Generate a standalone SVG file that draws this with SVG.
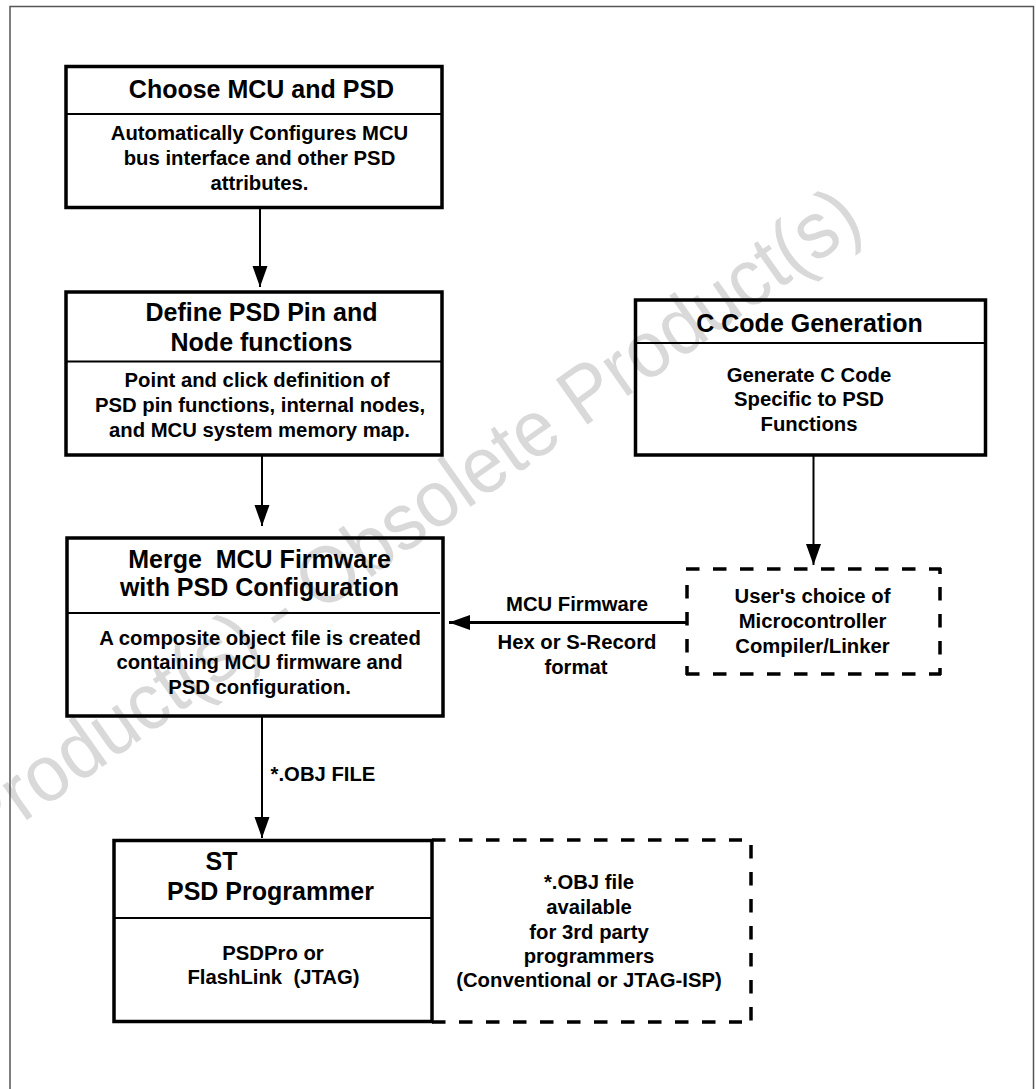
<svg xmlns="http://www.w3.org/2000/svg" width="1036" height="1089" viewBox="0 0 1036 1089">
<style>
text{font-family:"Liberation Sans",Arial,sans-serif;font-weight:bold;fill:#000;text-anchor:middle}
.t{font-size:25px}
.b{font-size:20.3px}
.l{font-size:20.3px}
.box{fill:none;stroke:#000;stroke-width:3.5}
.div{fill:none;stroke:#000;stroke-width:2}
.dash{fill:none;stroke:#000;stroke-width:3.5;stroke-dasharray:13.5 13.5}
.c{fill:none;stroke:#000;stroke-width:2}
text.wm{font-weight:normal;font-size:80px;fill:#d9d9d9;text-anchor:end}
</style>
<defs>
<marker id="arrow" markerUnits="userSpaceOnUse" markerWidth="22" markerHeight="16" refX="21" refY="7.5" orient="auto">
<path d="M0 0L21 7.5L0 15Z" fill="#000"/>
</marker>
</defs>
<rect width="1036" height="1089" fill="#fff"/>
<text class="wm" transform="translate(866 228) rotate(-35.2) scale(0.94 1)">Product(s) - Obsolete Product(s)</text>
<path d="M10 1089V6.5H1033.5V1089" fill="none" stroke="#555" stroke-width="1.5"/>
<g id="connectors">
<line class="c" x1="260" y1="209" x2="260" y2="287" marker-end="url(#arrow)"/>
<line class="c" x1="262" y1="456" x2="262" y2="526" marker-end="url(#arrow)"/>
<line class="c" x1="262" y1="717" x2="262" y2="838" marker-end="url(#arrow)"/>
<line class="c" x1="813.5" y1="456" x2="813.5" y2="565" marker-end="url(#arrow)"/>
<line x1="687" y1="622.5" x2="449" y2="622.5" stroke="#000" stroke-width="3" marker-end="url(#arrow)"/>
<text class="l" x="577" y="611">MCU Firmware</text>
<text class="l" x="577" y="649">Hex or S-Record</text>
<text class="l" x="576" y="674">format</text>
<text class="l" x="323" y="781">*.OBJ FILE</text>
</g>
<g id="choose-mcu">
<rect class="box" x="66" y="66.5" width="376" height="141"/>
<line class="div" x1="66" y1="114" x2="442" y2="114"/>
<text class="t" x="261.5" y="98">Choose MCU and PSD</text>
<text class="b" x="259.5" y="140">Automatically Configures MCU</text>
<text class="b" x="259.5" y="165">bus interface and other PSD</text>
<text class="b" x="259.5" y="190">attributes.</text>
</g>
<g id="define-pins">
<rect class="box" x="66" y="292" width="376" height="163"/>
<line class="div" x1="66" y1="361.5" x2="442" y2="361.5"/>
<text class="t" x="261.5" y="321">Define PSD Pin and</text>
<text class="t" x="261.5" y="351">Node functions</text>
<text class="b" x="257" y="387">Point and click definition of</text>
<text class="b" x="260" y="412">PSD pin functions, internal nodes,</text>
<text class="b" x="259.5" y="437">and MCU system memory map.</text>
</g>
<g id="merge">
<rect class="box" x="67" y="538" width="376" height="178"/>
<line class="div" x1="68" y1="613" x2="440" y2="613"/>
<text class="t" x="259.5" y="567.5" xml:space="preserve">Merge  MCU Firmware</text>
<text class="t" x="259.5" y="596">with PSD Configuration</text>
<text class="b" x="260" y="645">A composite object file is created</text>
<text class="b" x="259.5" y="669">containing MCU firmware and</text>
<text class="b" x="259.5" y="694">PSD configuration.</text>
</g>
<g id="c-code">
<rect class="box" x="635.5" y="300" width="350" height="155"/>
<line class="div" x1="635.5" y1="343" x2="985.5" y2="343"/>
<text class="t" x="809.5" y="332">C Code Generation</text>
<text class="b" x="809" y="382">Generate C Code</text>
<text class="b" x="809" y="406">Specific to PSD</text>
<text class="b" x="809" y="431">Functions</text>
</g>
<g id="compiler">
<line class="dash" x1="686" y1="569" x2="941" y2="569"/>
<line class="dash" x1="686" y1="674" x2="941" y2="674"/>
<line class="dash" x1="687" y1="585" x2="687" y2="675"/>
<line class="dash" x1="940" y1="587" x2="940" y2="675"/>
<line class="dash" x1="940" y1="568" x2="940" y2="574"/>
<text class="b" x="812.5" y="603">User's choice of</text>
<text class="b" x="812.5" y="628">Microcontroller</text>
<text class="b" x="812.5" y="653">Compiler/Linker</text>
</g>
<g id="programmer">
<rect class="box" x="114" y="840.5" width="318" height="181"/>
<line class="div" x1="114" y1="918" x2="432" y2="918"/>
<text class="t" x="221.5" y="870">ST</text>
<text class="t" x="270.5" y="900">PSD Programmer</text>
<text class="b" x="273" y="960">PSDPro or</text>
<text class="b" x="273.5" y="984" xml:space="preserve">FlashLink  (JTAG)</text>
</g>
<g id="third-party">
<line class="dash" x1="432" y1="840" x2="742" y2="840"/>
<line class="dash" x1="432" y1="1022" x2="742" y2="1022"/>
<line class="dash" x1="751" y1="845" x2="751" y2="1021"/>
<text class="b" x="589" y="889">*.OBJ file</text>
<text class="b" x="589" y="914">available</text>
<text class="b" x="589" y="939">for 3rd party</text>
<text class="b" x="589" y="963">programmers</text>
<text class="b" x="589" y="987">(Conventional or JTAG-ISP)</text>
</g>
</svg>
